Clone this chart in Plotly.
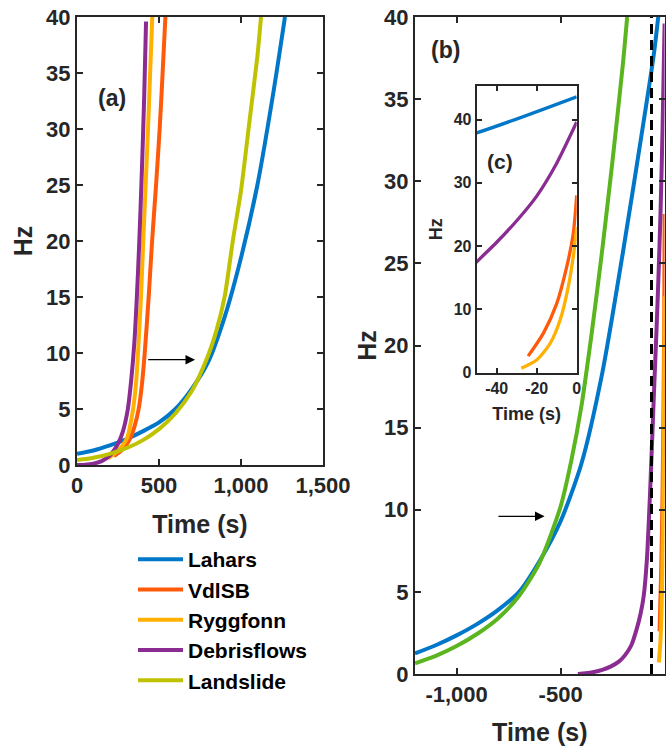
import plotly.graph_objects as go

W, H = 666, 746
FONT = "Liberation Sans, Arial, sans-serif"
FRAME = "#262626"

# ---------------- data: panel (a) ----------------
lahars_a_t = [0, 100, 200, 300, 400, 500, 600, 700, 800, 900, 1000, 1100, 1200, 1268]
lahars_a_hz = [1.0, 1.3, 1.75, 2.3, 3.0, 3.8, 5.0, 6.8, 9.2, 13.2, 18.5, 25.0, 33.5, 40]

vdlsb_a_t = [225, 264, 300, 325, 350, 376, 396, 413, 437, 458, 482, 504, 522, 539]
vdlsb_a_hz = [0.8, 1.2, 1.8, 2.4, 3.4, 5, 7.2, 10, 15, 20, 25, 30, 35, 40]

rygg_a_t = [190, 244, 280, 305, 342, 360, 372, 390, 404, 420, 433, 446, 459]
rygg_a_hz = [0.6, 1.2, 1.8, 2.4, 5, 7.3, 10, 15, 20, 25.5, 30, 35, 40]

debris_a_t = [0, 50, 100, 150, 200, 250, 280, 310, 330, 350, 365, 380, 395, 410, 421]
debris_a_hz = [0, 0.03, 0.12, 0.35, 0.85, 1.9, 3.0, 5.0, 7.5, 11, 15, 20, 26, 33, 39.6]

land_a_t = [0, 100, 200, 300, 400, 500, 600, 700, 800, 850, 900, 950, 1000, 1050, 1100, 1122]
land_a_hz = [0.45, 0.65, 1.0, 1.5, 2.2, 3.2, 4.6, 6.6, 9.8, 12.0, 15.0, 20.0, 24.5, 30.5, 36.5, 40]

# ---------------- data: panels (b) and (c) ----------------
lahars_b_t = [-1200, -1100, -1000, -900, -800, -700, -600, -500, -400, -300, -200, -100, -50, 0]
lahars_b_hz = [1.25, 1.75, 2.35, 3.05, 3.9, 5.0, 6.9, 9.3, 12.8, 18.3, 25.7, 33.7, 37.9, 43.6]

vdlsb_b_t = [-24.3, -16.7, -10, -5, -1.7, 0]
vdlsb_b_hz = [2.6, 6.2, 10.9, 16.7, 22, 28]

rygg_b_t = [-27.7, -20, -13.3, -8.3, -4.2, -1.5, 0]
rygg_b_hz = [0.7, 2.0, 4.6, 8.3, 13.6, 18.8, 23]

debris_b_t = [-417, -380, -340, -300, -260, -220, -190, -160, -135, -115, -100, -85, -70, -60,
              -50, -40, -30, -20, -10, 0]
debris_b_hz = [0, 0.04, 0.12, 0.25, 0.45, 0.75, 1.15, 1.75, 2.7, 3.7, 4.8, 7.0, 11.0, 14.2,
               17.5, 20.6, 24.0, 27.9, 33.1, 39.6]

land_b_t = [-1200, -1100, -1000, -900, -800, -700, -600, -500, -450, -400, -350, -300, -250, -200, -180]
land_b_hz = [0.65, 1.1, 1.7, 2.45, 3.4, 4.75, 6.8, 10.2, 12.9, 16.3, 20.8, 25.8, 31.3, 37.2, 40]

dashed_t = -63
dashed_hz = [0, 40]

# ticks
a_xticks = [0, 500, 1000, 1500]
a_xticklabels = ["0", "500", "1,000", "1,500"]
b_xticks = [-1000, -500, 0]
b_xticklabels = ["-1,000", "-500", "0"]
c_xticks = [-40, -20, 0]
c_xticklabels = ["-40", "-20", "0"]
main_yticks = [0, 5, 10, 15, 20, 25, 30, 35, 40]
c_yticks = [0, 10, 20, 30, 40]

# arrows (tail -> tip) in data units
arrow_a = dict(tail=(425, 9.4), tip=(720, 9.4))
arrow_b = dict(tail=(-806, 9.6), tip=(-577, 9.6))

names = ["Lahars", "VdlSB", "Ryggfonn", "Debrisflows", "Landslide"]
col = {
    "Lahars": "#0077C8",
    "VdlSB": "#FF5A0A",
    "Ryggfonn": "#FFB000",
    "Debrisflows": "#8A2C92",
    "Landslide": "#BFC200",
    "Landslide_b": "#5AB51E",
}

fig = go.Figure()


def add(x, y, color, name, xa, ya, width, showlegend):
    fig.add_trace(go.Scatter(
        x=x, y=y, mode="lines", name=name,
        line=dict(color=color, width=width, shape="spline", smoothing=0.7),
        xaxis=xa, yaxis=ya, showlegend=showlegend, hoverinfo="skip"))


# panel (a)
series_a = [(lahars_a_t, lahars_a_hz), (vdlsb_a_t, vdlsb_a_hz), (rygg_a_t, rygg_a_hz),
            (debris_a_t, debris_a_hz), (land_a_t, land_a_hz)]
for n, (t, h) in zip(names, series_a):
    add(t, h, col[n], n, "x", "y", 4, True)

# panel (b)
add(lahars_b_t, lahars_b_hz, col["Lahars"], "Lahars", "x2", "y2", 4, False)
add(vdlsb_b_t, vdlsb_b_hz, col["VdlSB"], "VdlSB", "x2", "y2", 4, False)
add(rygg_b_t, rygg_b_hz, col["Ryggfonn"], "Ryggfonn", "x2", "y2", 4, False)
add(debris_b_t, debris_b_hz, col["Debrisflows"], "Debrisflows", "x2", "y2", 4, False)
add(land_b_t, land_b_hz, col["Landslide_b"], "Landslide", "x2", "y2", 4, False)
fig.add_trace(go.Scatter(x=[dashed_t, dashed_t], y=dashed_hz, mode="lines",
                         line=dict(color="black", width=3, dash="10px,6px"),
                         xaxis="x2", yaxis="y2", showlegend=False, hoverinfo="skip"))

# panel (c) inset
add(lahars_b_t, lahars_b_hz, col["Lahars"], "Lahars", "x3", "y3", 3.3, False)
add(vdlsb_b_t, vdlsb_b_hz, col["VdlSB"], "VdlSB", "x3", "y3", 3.3, False)
add(rygg_b_t, rygg_b_hz, col["Ryggfonn"], "Ryggfonn", "x3", "y3", 3.3, False)
add(debris_b_t, debris_b_hz, col["Debrisflows"], "Debrisflows", "x3", "y3", 3.3, False)


def axstyle(tsize, ticklen=6, **kw):
    d = dict(showline=True, linewidth=2, linecolor=FRAME, mirror="ticks",
             ticks="inside", ticklen=ticklen, tickwidth=2, tickcolor=FRAME,
             showgrid=False, zeroline=False, automargin=False,
             tickfont=dict(family=FONT, size=tsize, color=FRAME, weight="bold"))
    d.update(kw)
    return d


def ttl(text, size, standoff):
    return dict(text=text, font=dict(family=FONT, size=size, color=FRAME, weight="bold"),
                standoff=standoff)


def px(x0, x1):
    return [x0 / W, x1 / W]


def py(y_top, y_bot):
    return [1 - y_bot / H, 1 - y_top / H]


fig.update_layout(
    width=W, height=H,
    margin=dict(l=0, r=0, t=0, b=0),
    paper_bgcolor="white", plot_bgcolor="rgba(0,0,0,0)",
    showlegend=True,
    xaxis=axstyle(22, domain=px(77, 323), range=[0, 1500], tickvals=a_xticks,
                  ticktext=a_xticklabels, anchor="y", title=ttl("Time (s)", 25, 18)),
    yaxis=axstyle(22, domain=py(17, 465), range=[0, 40], tickvals=main_yticks,
                  anchor="x", title=ttl("Hz", 25, 6)),
    xaxis2=axstyle(22, domain=px(415, 664.6), range=[-1200, 0], tickvals=b_xticks,
                   ticktext=b_xticklabels, anchor="y2", title=ttl("Time (s)", 25, 17)),
    yaxis2=axstyle(22, domain=py(17, 674), range=[0, 40], tickvals=main_yticks,
                   anchor="x2", title=ttl("Hz", 25, 0)),
    xaxis3=axstyle(16, ticklen=5, domain=px(476.7, 576.7), range=[-50, 0], tickvals=c_xticks,
                   ticktext=c_xticklabels, anchor="y3", title=ttl("Time (s)", 18, 12)),
    yaxis3=axstyle(16, ticklen=5, domain=py(86, 372.6), range=[0, 45.3], tickvals=c_yticks,
                   anchor="x3", title=ttl("Hz", 18, 6)),
    legend=dict(x=133 / W, y=1 - 539 / H, xanchor="left", yanchor="top",
                font=dict(family=FONT, size=21, color="black", weight="bold"),
                bgcolor="rgba(0,0,0,0)", itemwidth=45, tracegroupgap=0),
)

lab_font = dict(family=FONT, size=23, color=FRAME, weight="bold")
for txt, x, y, f in [("(a)", 112, 98, lab_font), ("(b)", 445, 50, lab_font),
                     ("(c)", 500, 161, dict(family=FONT, size=21, color=FRAME, weight="bold"))]:
    fig.add_annotation(text=txt, xref="paper", yref="paper", x=x / W, y=1 - y / H,
                       xanchor="center", yanchor="middle", showarrow=False, font=f)

for arr, xr, yr in [(arrow_a, "x", "y"), (arrow_b, "x2", "y2")]:
    fig.add_annotation(text="", x=arr["tip"][0], y=arr["tip"][1], ax=arr["tail"][0],
                       ay=arr["tail"][1], xref=xr, yref=yr, axref=xr, ayref=yr,
                       showarrow=True, arrowhead=2, arrowsize=1.6, arrowwidth=1.2,
                       arrowcolor="black")

fig.write_html("out.html")
